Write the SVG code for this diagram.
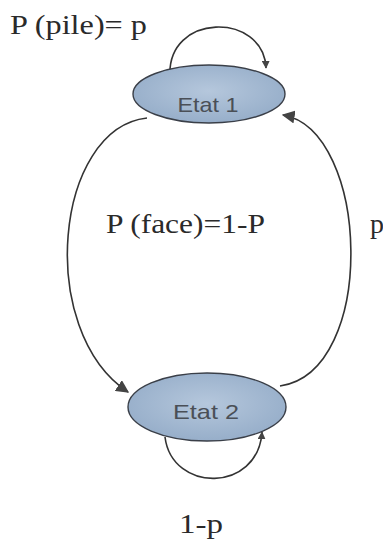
<svg xmlns="http://www.w3.org/2000/svg" width="383" height="542" viewBox="0 0 383 542">
<defs>
<radialGradient id="g" cx="50%" cy="45%" r="60%">
<stop offset="0" stop-color="#b5c7dc"/>
<stop offset="1" stop-color="#94acc8"/>
</radialGradient>
<marker id="ar" viewBox="0 0 10 10" refX="9" refY="5" markerWidth="8" markerHeight="8" orient="auto" markerUnits="userSpaceOnUse">
<path d="M0,0 L10,5 L0,10 z" fill="#444"/>
</marker>
<marker id="arb" viewBox="0 0 10 10" refX="9" refY="5" markerWidth="13" markerHeight="13" orient="auto" markerUnits="userSpaceOnUse">
<path d="M0,0 L10,5 L0,10 z" fill="#444"/>
</marker>
</defs>
<style>
.st{fill:url(#g);stroke:#3a3f48;stroke-width:1.4}
.nl{font-family:"Liberation Sans",Arial,sans-serif;font-size:21px;fill:#4a4f57;text-anchor:middle}
.lb{font-family:"Liberation Serif","Times New Roman",serif;font-size:28px;fill:#2a2a2a}
.c{fill:none;stroke:#333;stroke-width:1.6}
</style>
<rect width="383" height="542" fill="#fff"/>
<g id="connectors">
<path class="c" d="M170,77 C166,12 264,12 266,68" marker-end="url(#ar)"/>
<path class="c" d="M147,118 C55,128 35,330 128,392" marker-end="url(#arb)"/>
<path class="c" d="M280,386 C378,372 370,130 283,115" marker-end="url(#arb)"/>
<path class="c" d="M165,437 C172,493 258,493 262,432" marker-end="url(#ar)"/>
</g>
<g id="etat1">
<ellipse class="st" cx="209" cy="94" rx="76" ry="29"/>
<text class="nl" x="208" y="112" textLength="61" lengthAdjust="spacingAndGlyphs">Etat 1</text>
</g>
<g id="etat2">
<ellipse class="st" cx="207" cy="407" rx="79" ry="34"/>
<text class="nl" x="206" y="419" textLength="66" lengthAdjust="spacingAndGlyphs">Etat 2</text>
</g>
<g id="labels">
<text class="lb" x="10" y="34" textLength="137" lengthAdjust="spacingAndGlyphs">P (pile)= p</text>
<text class="lb" x="106" y="233" textLength="159" lengthAdjust="spacingAndGlyphs">P (face)=1-P</text>
<text class="lb" x="370" y="233">p</text>
<text class="lb" x="179" y="533" textLength="44" lengthAdjust="spacingAndGlyphs">1-p</text>
</g>
</svg>
